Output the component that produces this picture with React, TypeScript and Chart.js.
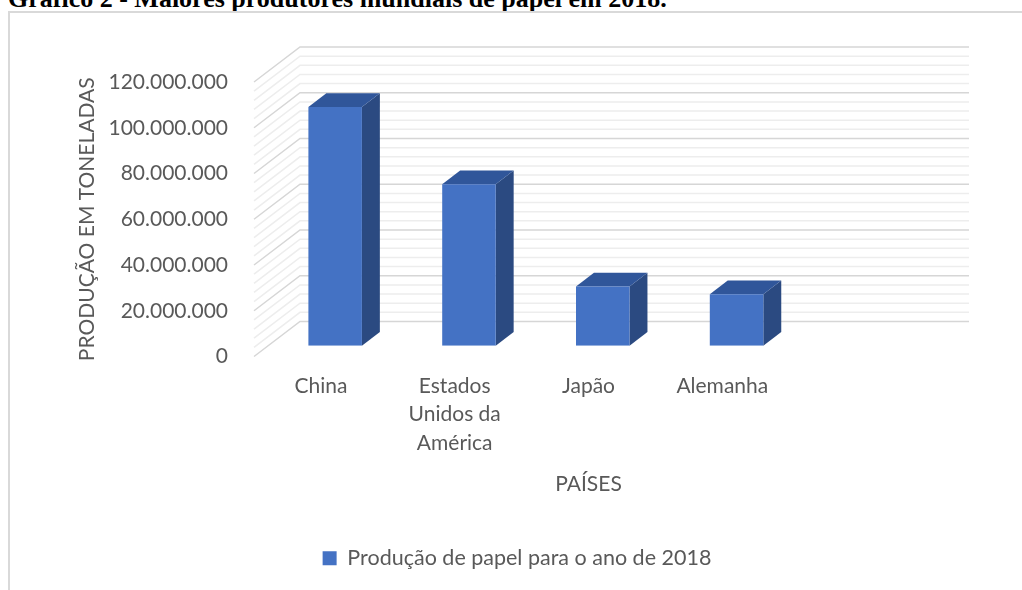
import React, { useEffect, useRef } from 'react';
import { Chart, registerables } from 'chart.js';

Chart.register(...registerables);

// ---- data ----
const categories: (string | string[])[] = ['China', ['Estados', 'Unidos da', 'América'], 'Japão', 'Alemanha', ''];
const production: (number | null)[] = [104350000, 70600000, 25900000, 22500000, null];
const seriesLabel = 'Produção de papel para o ano de 2018';
const yMin = 0;
const yMax = 120000000;
const yMajorStep = 20000000;
const yMinorStep = 4000000;
const chartTitle = 'Gráfico 2 - Maiores produtores mundiais de papel em 2018.';
const yAxisTitle = 'PRODUÇÃO EM TONELADAS';
const xAxisTitle = 'PAÍSES';

// ---- style ----
const FONT = 'Lato, "Open Sans", sans-serif';
const TEXT = '#595959';
const FRONT = '#4472c4';
const TOP = '#30569a';
const SIDE = '#2b4a81';
const WALL_DX = 46;
const WALL_DY = 35;
const BAR_FRONT = 0.31;
const BAR_DEPTH = 0.39;

const fmt = (v: number) => String(Math.round(v)).replace(/\B(?=(\d{3})+(?!\d))/g, '.');

const depthPlugin = {
  id: 'depth3d',
  beforeDatasetsDraw(chart: any) {
    const { ctx, chartArea, scales } = chart;
    const ys = scales.y;
    const L = chartArea.left;
    const R = chartArea.right;
    ctx.save();
    ctx.lineWidth = 1.5;
    for (let v = yMin; v <= yMax; v += yMinorStep) {
      const py = ys.getPixelForValue(v);
      const major = v % yMajorStep === 0;
      ctx.strokeStyle = major ? '#d6d6d6' : '#ededed';
      ctx.beginPath();
      ctx.moveTo(L, py);
      ctx.lineTo(L + WALL_DX, py - WALL_DY);
      ctx.lineTo(R + WALL_DX, py - WALL_DY);
      ctx.stroke();
    }
    const fx = WALL_DX * BAR_FRONT;
    const fy = WALL_DY * BAR_FRONT;
    const dx = WALL_DX * BAR_DEPTH;
    const dy = WALL_DY * BAR_DEPTH;
    const meta = chart.getDatasetMeta(0);
    meta.data.forEach((bar: any, i: number) => {
      if (production[i] == null) return;
      const { x, y, base, width } = bar.getProps(['x', 'y', 'base', 'width'], true);
      const l = x - width / 2 + fx;
      const r = x + width / 2 + fx;
      const t = y - fy;
      const b = base - fy;
      ctx.fillStyle = SIDE;
      ctx.beginPath();
      ctx.moveTo(r, t);
      ctx.lineTo(r + dx, t - dy);
      ctx.lineTo(r + dx, b - dy);
      ctx.lineTo(r, b);
      ctx.closePath();
      ctx.fill();
      ctx.fillStyle = TOP;
      ctx.beginPath();
      ctx.moveTo(l, t);
      ctx.lineTo(l + dx, t - dy);
      ctx.lineTo(r + dx, t - dy);
      ctx.lineTo(r, t);
      ctx.closePath();
      ctx.fill();
    });
    ctx.restore();
    ctx.save();
    ctx.translate(fx, -fy);
  },
  afterDatasetsDraw(chart: any) {
    chart.ctx.restore();
  },
};

export default function App() {
  const ref = useRef<HTMLCanvasElement | null>(null);

  useEffect(() => {
    if (!ref.current) return;
    const chart = new Chart(ref.current, {
      type: 'bar',
      data: {
        labels: categories as any,
        datasets: [
          {
            label: seriesLabel,
            data: production as any,
            backgroundColor: FRONT,
            borderWidth: 0,
            barPercentage: 0.4,
            categoryPercentage: 1,
          },
        ],
      },
      options: {
        animation: false,
        responsive: false,
        devicePixelRatio: 1,
        layout: { padding: { top: 82, left: 12, right: 0, bottom: 11 } },
        plugins: {
          legend: {
            position: 'bottom',
            labels: {
              boxWidth: 14,
              boxHeight: 14,
              padding: 10,
              color: TEXT,
              font: { family: FONT, size: 21.5 },
            },
          },
          tooltip: { enabled: false },
        },
        scales: {
          x: {
            grid: { display: false, drawTicks: false },
            border: { display: false },
            ticks: {
              color: TEXT,
              font: { family: FONT, size: 21, lineHeight: 1.34 },
              padding: 16,
              maxRotation: 0,
              autoSkip: false,
            },
            title: {
              display: true,
              text: xAxisTitle,
              color: TEXT,
              font: { family: FONT, size: 21, lineHeight: 1.2 },
              padding: { top: 0, bottom: 41 },
            },
            afterFit: (s: any) => {
              s.height = 181;
            },
          },
          y: {
            min: yMin,
            max: yMax,
            grid: { display: false, drawTicks: false },
            border: { display: false },
            ticks: {
              stepSize: yMajorStep,
              color: TEXT,
              font: { family: FONT, size: 21 },
              padding: 26,
              callback: (v: any) => fmt(Number(v)),
            },
            title: {
              display: true,
              text: yAxisTitle,
              color: TEXT,
              font: { family: FONT, size: 21, lineHeight: 1.2 },
              padding: { top: 63, bottom: 0 },
            },
            afterFit: (s: any) => {
              s.width = 242;
            },
          },
          yRight: {
            position: 'right',
            display: true,
            grid: { display: false, drawTicks: false },
            border: { display: false },
            ticks: { display: false },
            afterFit: (s: any) => {
              s.width = 99;
            },
          },
        },
      },
      plugins: [depthPlugin],
    } as any);
    return () => chart.destroy();
  }, []);

  return (
    <div style={{ position: 'fixed', left: 0, top: 0, width: 1022, height: 590, background: '#fff', overflow: 'hidden' }}>
      <div
        style={{
          position: 'absolute',
          left: 8,
          top: -14.5,
          fontFamily: '"Liberation Serif", "Times New Roman", serif',
          fontWeight: 'bold',
          fontSize: 26,
          lineHeight: '26px',
          color: '#000',
          whiteSpace: 'nowrap',
        }}
      >
        {chartTitle}
      </div>
      <div
        style={{
          position: 'absolute',
          left: 8,
          top: 11,
          right: 0,
          bottom: 0,
          background: '#fff',
          borderTop: '2px solid #d9d9d9',
          borderLeft: '2px solid #d9d9d9',
        }}
      />
      <canvas ref={ref} width={1022} height={590} style={{ position: 'absolute', left: 0, top: 0, width: 1022, height: 590 }} />
    </div>
  );
}
